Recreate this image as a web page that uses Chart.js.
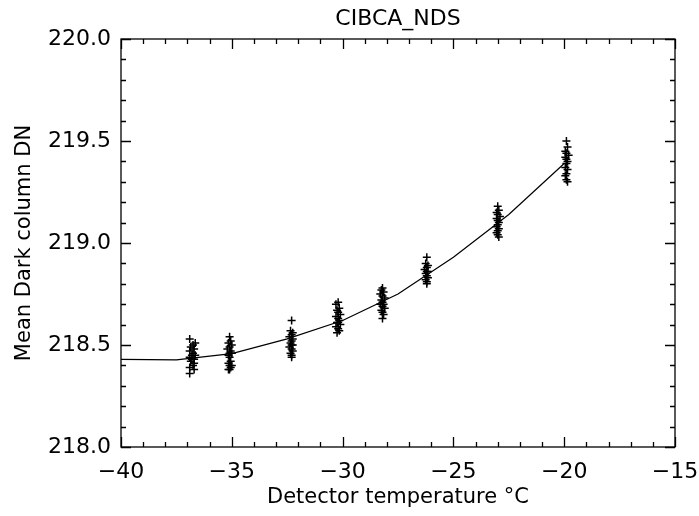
<!DOCTYPE html>
<html>
<head>
<meta charset="utf-8">
<script src="https://cdn.jsdelivr.net/npm/chart.js@4.4.1/dist/chart.umd.min.js"></script>
<style>
  body { margin: 0; background: #fff; }
  canvas { display: block; }
</style>
</head>
<body>
<canvas id="chart" width="699" height="516"></canvas>
<script>
// measured points, one pair of arrays per temperature step
const c1T  = [-36.9, -36.65, -36.75, -36.85, -36.7, -36.9, -36.75, -36.8, -36.65, -36.9, -36.7, -36.8, -36.85, -36.7, -36.75, -36.9, -36.7, -36.9];
const c1DN = [218.53, 218.51, 218.50, 218.49, 218.48, 218.47, 218.46, 218.45, 218.45, 218.44, 218.43, 218.43, 218.42, 218.41, 218.40, 218.39, 218.38, 218.36];
const c2T  = [-35.1, -35.05, -35.15, -35.0, -35.1, -35.2, -35.05, -35.1, -35.0, -35.15, -35.1, -35.05, -35.15, -35.0, -35.1, -35.05, -35.15, -35.1];
const c2DN = [218.54, 218.52, 218.51, 218.50, 218.49, 218.48, 218.47, 218.46, 218.46, 218.45, 218.44, 218.42, 218.41, 218.40, 218.40, 218.39, 218.38, 218.38];
const c3T  = [-32.3, -32.35, -32.25, -32.3, -32.4, -32.25, -32.3, -32.35, -32.25, -32.3, -32.4, -32.3, -32.25, -32.35, -32.3, -32.3];
const c3DN = [218.62, 218.57, 218.56, 218.55, 218.54, 218.53, 218.52, 218.51, 218.50, 218.50, 218.49, 218.48, 218.47, 218.46, 218.45, 218.44];
const c4T  = [-30.2, -30.3, -30.15, -30.25, -30.2, -30.1, -30.3, -30.2, -30.15, -30.25, -30.2, -30.1, -30.3, -30.2, -30.15, -30.25];
const c4DN = [218.71, 218.70, 218.68, 218.67, 218.66, 218.65, 218.64, 218.63, 218.62, 218.61, 218.61, 218.60, 218.59, 218.58, 218.57, 218.56];
const c5T  = [-28.2, -28.25, -28.15, -28.3, -28.2, -28.1, -28.25, -28.2, -28.15, -28.3, -28.2, -28.1, -28.25, -28.2, -28.15, -28.2];
const c5DN = [218.78, 218.77, 218.76, 218.75, 218.74, 218.73, 218.72, 218.71, 218.70, 218.70, 218.69, 218.68, 218.67, 218.66, 218.65, 218.63];
const c6T  = [-26.2, -26.25, -26.15, -26.2, -26.3, -26.15, -26.2, -26.25, -26.2, -26.15, -26.25, -26.2, -26.2];
const c6DN = [218.93, 218.90, 218.89, 218.88, 218.87, 218.86, 218.86, 218.85, 218.84, 218.83, 218.82, 218.81, 218.80];
const c7T  = [-23.0, -22.95, -23.05, -23.0, -22.9, -23.05, -23.0, -22.95, -23.0, -23.05, -22.95, -23.0, -23.05, -23.0, -22.95];
const c7DN = [219.18, 219.16, 219.15, 219.14, 219.13, 219.12, 219.11, 219.10, 219.09, 219.08, 219.07, 219.06, 219.05, 219.04, 219.03];
const c8T  = [-19.9, -19.85, -19.95, -19.9, -19.8, -19.95, -19.9, -19.85, -19.9, -19.95, -19.85, -19.9, -19.95, -19.9, -19.85];
const c8DN = [219.50, 219.47, 219.45, 219.44, 219.43, 219.42, 219.41, 219.40, 219.39, 219.37, 219.36, 219.34, 219.33, 219.31, 219.30];

// fitted curve
const fitT  = [-40, -37.5, -35, -32.5, -30, -27.5, -25, -22.5, -20];
const fitDN = [218.43, 218.427, 218.458, 218.53, 218.62, 218.75, 218.93, 219.14, 219.39];

const titleText = "CIBCA_NDS";
const xLabel = "Detector temperature °C";
const yLabel = "Mean Dark column DN";
const xMin = -40, xMax = -15, xStep = 5;
const yMin = 218, yMax = 220, yStep = 0.5;

const FONT = '"DejaVu Sans", sans-serif';

const clusters = [[c1T, c1DN], [c2T, c2DN], [c3T, c3DN], [c4T, c4DN],
                  [c5T, c5DN], [c6T, c6DN], [c7T, c7DN], [c8T, c8DN]];

const points = [];
clusters.forEach(([t, dn]) => t.forEach((v, i) => points.push({ x: v, y: dn[i] })));

const fit = fitT.map((v, i) => ({ x: v, y: fitDN[i] }));

// IDL style box: inward ticks on all four sides + title over the plot
const boxTicks = {
  id: "boxTicks",
  afterDraw(chart) {
    const { ctx, chartArea: a, scales: { x, y } } = chart;
    ctx.save();
    ctx.strokeStyle = "#000";
    ctx.lineWidth = 1.3;
    ctx.strokeRect(a.left, a.top, a.right - a.left, a.bottom - a.top);
    ctx.beginPath();
    for (let v = xMin; v <= xMax; v++) {
      const px = Math.round(x.getPixelForValue(v)) + 0.5;
      const len = v % 5 === 0 ? 10 : 5;
      ctx.moveTo(px, a.bottom); ctx.lineTo(px, a.bottom - len);
      ctx.moveTo(px, a.top); ctx.lineTo(px, a.top + len);
    }
    for (let i = 0; i <= 20; i++) {
      const py = Math.round(y.getPixelForValue(yMin + i * 0.1)) + 0.5;
      const len = i % 5 === 0 ? 10 : 5;
      ctx.moveTo(a.left, py); ctx.lineTo(a.left + len, py);
      ctx.moveTo(a.right, py); ctx.lineTo(a.right - len, py);
    }
    ctx.stroke();
    ctx.fillStyle = "#000";
    ctx.font = "22px " + FONT;
    ctx.textAlign = "center";
    ctx.textBaseline = "alphabetic";
    ctx.fillText(titleText, (a.left + a.right) / 2, 25);
    ctx.restore();
  }
};

const minus = v => (v < 0 ? "\u2212" + Math.abs(v) : String(v));

new Chart(document.getElementById("chart"), {
  type: "scatter",
  data: {
    datasets: [
      {
        data: points,
        pointStyle: "cross",
        pointRadius: 4,
        pointBorderWidth: 1.5,
        borderColor: "#000",
        backgroundColor: "#000",
      },
      {
        type: "line",
        data: fit,
        showLine: true,
        pointRadius: 0,
        borderColor: "#000",
        borderWidth: 1.2,
        tension: 0,
        fill: false,
      },
    ],
  },
  options: {
    responsive: false,
    animation: false,
    layout: { padding: { left: 8, right: 24, top: 39, bottom: 2 } },
    plugins: {
      legend: { display: false },
      tooltip: { enabled: false },
    },
    scales: {
      x: {
        type: "linear",
        min: xMin,
        max: xMax,
        afterFit(s) { s.height = 67; s.paddingRight = 0; s.paddingLeft = 0; },
        grid: { display: false, drawTicks: false },
        border: { display: false },
        ticks: {
          stepSize: xStep,
          padding: 12,
          color: "#000",
          font: { family: FONT, size: 22 },
          callback: v => minus(v),
        },
        title: {
          display: true,
          text: xLabel,
          color: "#000",
          font: { family: FONT, size: 21 },
        },
      },
      y: {
        min: yMin,
        max: yMax,
        afterFit(s) { s.width = 113; },
        grid: { display: false, drawTicks: false },
        border: { display: false },
        ticks: {
          stepSize: yStep,
          padding: 10,
          color: "#000",
          font: { family: FONT, size: 22 },
          callback: v => v.toFixed(1),
        },
        title: {
          display: true,
          text: yLabel,
          color: "#000",
          font: { family: FONT, size: 21 },
        },
      },
    },
  },
  plugins: [boxTicks],
});
</script>
</body>
</html>
